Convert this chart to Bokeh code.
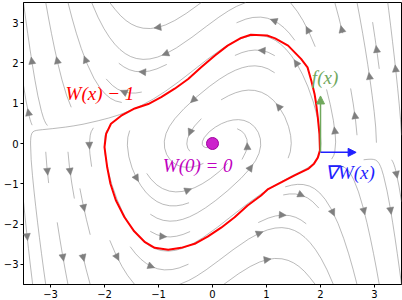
import numpy as np
from bokeh.plotting import figure
from bokeh.models import Arrow, NormalHead, ColumnDataSource, Label, FixedTicker
from bokeh.embed import file_html
from bokeh.resources import INLINE

# ---------------- data ----------------
x_limits = [-3.5, 3.5]
y_limits = [-3.5, 3.5]
tick_values = [-3, -2, -1, 0, 1, 2, 3]
tick_labels = ["\u22123", "\u22122", "\u22121", "0", "1", "2", "3"]

# system shown by the stream plot: time-reversed Van der Pol oscillator
mu = 1.0
stream_density = 0.6
field_points = 101

# level set W(x) = 1 (red curve)
red_x = [1.99, 1.98, 1.95, 1.92, 1.89, 1.83, 1.76, 1.64, 1.40, 1.16, 1.01, 0.71, 0.53,
         0.28, 0.04, -0.21, -0.45, -0.70, -0.95, -1.19, -1.44, -1.69, -1.88, -1.97,
         -2.00, -1.95, -1.89, -1.79, -1.63, -1.45, -1.25, -1.07, -0.82, -0.58, -0.33,
         -0.09, 0.16, 0.41, 0.65, 0.90, 1.03, 1.28, 1.52, 1.77, 1.88, 1.95, 1.99]
red_y = [-0.17, 0.24, 0.65, 0.98, 1.23, 1.56, 1.89, 2.10, 2.43, 2.61, 2.68, 2.70, 2.62,
         2.43, 2.18, 1.89, 1.60, 1.36, 1.15, 0.98, 0.87, 0.69, 0.49, 0.24,
         -0.09, -0.59, -1.00, -1.41, -1.83, -2.18, -2.45, -2.59, -2.64, -2.59, -2.49,
         -2.31, -2.09, -1.83, -1.54, -1.29, -1.13, -0.96, -0.79, -0.63, -0.50, -0.35, -0.17]

origin_point = [0.0, 0.0]
boundary_point = [2.0, -0.22]
f_vector = [0.0, 1.4]
gradW_vector = [0.66, 0.0]

labels = ["W(x) \u2212 1", "W(0) = 0", "f(x)", "\u2207W(x)"]
label_x = [-2.72, -0.92, 1.84, 2.08]
label_y = [1.24, -0.55, 1.64, -0.72]
label_colors = ["#ff0000", "#c000c0", "#70a85c", "#1f1fff"]


# ---------------- stream plot (port of matplotlib's algorithm) ----------------
def stream_lines(xs, ys, U, V, density=1.0, minlength=0.1, maxlength=4.0):
    ngx, ngy = len(xs), len(ys)
    dx, dy = xs[1] - xs[0], ys[1] - ys[0]
    mnx = mny = int(30 * density)
    mask = np.zeros((mny, mnx))
    xg2m = (mnx - 1) / (ngx - 1)
    yg2m = (mny - 1) / (ngy - 1)
    u = U / dx
    v = V / dy
    speed = np.sqrt((u / (ngx - 1)) ** 2 + (v / (ngy - 1)) ** 2)
    st = {"cur": None, "traj": []}

    class OOB(Exception):
        pass

    class Term(Exception):
        pass

    class Occ(Exception):
        pass

    def within(xi, yi):
        return 0 <= xi <= ngx - 1 and 0 <= yi <= ngy - 1

    def g2m(xi, yi):
        return int(round(xi * xg2m)), int(round(yi * yg2m))

    def interp(a, xi, yi):
        Ny, Nx = a.shape
        x = int(xi)
        y = int(yi)
        xn = x if x == Nx - 1 else x + 1
        yn = y if y == Ny - 1 else y + 1
        xt = xi - x
        yt = yi - y
        a0 = a[y, x] * (1 - xt) + a[y, xn] * xt
        a1 = a[yn, x] * (1 - xt) + a[yn, xn] * xt
        return a0 * (1 - yt) + a1 * yt

    def update(xm, ym):
        if st["cur"] != (xm, ym):
            if mask[ym, xm] == 0:
                st["traj"].append((ym, xm))
                mask[ym, xm] = 1
                st["cur"] = (xm, ym)
            else:
                raise Occ

    def fwd(xi, yi):
        if not within(xi, yi):
            raise OOB
        s = interp(speed, xi, yi)
        if s == 0:
            raise Term
        return interp(u, xi, yi) / s, interp(v, xi, yi) / s

    def bwd(xi, yi):
        a, b = fwd(xi, yi)
        return -a, -b

    def euler(traj, f):
        xi, yi = traj[-1]
        cx, cy = f(xi, yi)
        if cx == 0:
            dsx = np.inf
        elif cx < 0:
            dsx = xi / -cx
        else:
            dsx = (ngx - 1 - xi) / cx
        if cy == 0:
            dsy = np.inf
        elif cy < 0:
            dsy = yi / -cy
        else:
            dsy = (ngy - 1 - yi) / cy
        d = min(dsx, dsy)
        traj.append((xi + cx * d, yi + cy * d))
        return d, traj

    def rk12(x0, y0, f):
        maxerror = 0.003
        maxds = min(1.0 / mnx, 1.0 / mny, 0.1)
        ds = maxds
        stotal = 0.0
        xi, yi = x0, y0
        traj = []
        while True:
            try:
                if within(xi, yi):
                    traj.append((xi, yi))
                else:
                    raise OOB
                k1x, k1y = f(xi, yi)
                k2x, k2y = f(xi + ds * k1x, yi + ds * k1y)
            except OOB:
                if traj:
                    d, traj = euler(traj, f)
                    stotal += d
                break
            except Term:
                break
            dx1, dy1 = ds * k1x, ds * k1y
            dx2, dy2 = ds * 0.5 * (k1x + k2x), ds * 0.5 * (k1y + k2y)
            error = np.hypot((dx2 - dx1) / (ngx - 1), (dy2 - dy1) / (ngy - 1))
            if error < maxerror:
                xi += dx2
                yi += dy2
                try:
                    if not within(xi, yi):
                        raise OOB
                    update(*g2m(xi, yi))
                except (Occ, OOB):
                    break
                if stotal + ds > maxlength:
                    break
                stotal += ds
            if error == 0:
                ds = maxds
            else:
                ds = min(maxds, 0.85 * ds * (maxerror / error) ** 0.5)
        return stotal, traj

    def integrate(x0, y0):
        st["traj"] = []
        try:
            update(*g2m(x0, y0))
        except Occ:
            return None
        total = 0.0
        s, t = rk12(x0, y0, bwd)
        total += s
        pts = t[::-1]
        st["cur"] = g2m(x0, y0)
        s, t = rk12(x0, y0, fwd)
        total += s
        pts += t[1:]
        if total > minlength:
            return np.array(pts)
        for (a, b) in st["traj"]:
            mask[a, b] = 0
        return None

    def starts(ny, nx):
        xfirst, yfirst, xlast, ylast = 0, 1, nx - 1, ny - 1
        x, y = 0, 0
        direction = "right"
        for _ in range(nx * ny):
            yield x, y
            if direction == "right":
                x += 1
                if x >= xlast:
                    xlast -= 1
                    direction = "up"
            elif direction == "up":
                y += 1
                if y >= ylast:
                    ylast -= 1
                    direction = "left"
            elif direction == "left":
                x -= 1
                if x <= xfirst:
                    xfirst += 1
                    direction = "down"
            elif direction == "down":
                y -= 1
                if y <= yfirst:
                    yfirst += 1
                    direction = "right"

    lines = []
    for xm, ym in starts(mny, mnx):
        if mask[ym, xm] == 0:
            t = integrate(xm / xg2m, ym / yg2m)
            if t is not None:
                lines.append(t)

    out_x, out_y, arrows = [], [], {"xs": [], "ys": [], "xe": [], "ye": []}
    for t in lines:
        tx = t[:, 0] * dx + xs[0]
        ty = t[:, 1] * dy + ys[0]
        out_x.append(tx.tolist())
        out_y.append(ty.tolist())
        s = np.cumsum(np.hypot(np.diff(tx), np.diff(ty)))
        n = int(np.searchsorted(s, s[-1] / 2.0))
        arrows["xs"].append(tx[n])
        arrows["ys"].append(ty[n])
        arrows["xe"].append(np.mean(tx[n:n + 2]))
        arrows["ye"].append(np.mean(ty[n:n + 2]))
    return out_x, out_y, arrows


gx = np.linspace(x_limits[0], x_limits[1], field_points)
gy = np.linspace(y_limits[0], y_limits[1], field_points)
X, Y = np.meshgrid(gx, gy)
U = -Y
V = X - mu * (1 - X ** 2) * Y
sx, sy, sarrows = stream_lines(gx, gy, U, V, density=stream_density)

# ---------------- figure ----------------
p = figure(width=402, height=300, x_range=tuple(x_limits), y_range=tuple(y_limits),
           output_backend="svg", toolbar_location=None,
           min_border_left=10, min_border_right=1, min_border_top=2, min_border_bottom=10)
p.xgrid.visible = False
p.ygrid.visible = False
p.outline_line_color = "black"
p.outline_line_width = 1
p.outline_line_alpha = 1
p.background_fill_color = "white"
p.border_fill_color = "white"

for ax in (p.xaxis[0], p.yaxis[0]):
    ax.ticker = FixedTicker(ticks=tick_values)
    ax.major_label_overrides = {v: l for v, l in zip(tick_values, tick_labels)}
    ax.major_tick_in = 0
    ax.major_tick_out = 3
    ax.minor_tick_out = 0
    ax.minor_tick_in = 0
    ax.axis_line_color = "black"
    ax.major_tick_line_color = "black"
    ax.major_label_text_font = "DejaVu Sans"
    ax.major_label_text_font_size = "10px"
    ax.major_label_text_color = "black"
    ax.major_label_standoff = 2
    ax.axis_label_standoff = 0

p.multi_line(xs=sx, ys=sy, line_color="#8c8c8c", line_width=0.6)
asrc = ColumnDataSource(data=sarrows)
p.add_layout(Arrow(end=NormalHead(size=7, fill_color="#7f7f7f", line_color="#7f7f7f", line_width=0.5),
                   x_start="xs", y_start="ys", x_end="xe", y_end="ye", source=asrc,
                   line_alpha=0, line_width=0))

p.line(red_x, red_y, line_color="#ff0000", line_width=2)
p.scatter([origin_point[0]], [origin_point[1]], size=12, fill_color="#cc22cc",
          line_color="#a000a0", line_width=1)

bx, by = boundary_point
p.add_layout(Arrow(end=NormalHead(size=8, fill_color=label_colors[2], line_color=label_colors[2], line_width=1),
                   x_start=bx, y_start=by, x_end=bx + f_vector[0], y_end=by + f_vector[1],
                   line_color=label_colors[2], line_width=1.5))
p.add_layout(Arrow(end=NormalHead(size=8, fill_color=label_colors[3], line_color=label_colors[3], line_width=1),
                   x_start=bx, y_start=by, x_end=bx + gradW_vector[0], y_end=by + gradW_vector[1],
                   line_color=label_colors[3], line_width=1.5))

for txt, lx, ly, col in zip(labels, label_x, label_y, label_colors):
    p.add_layout(Label(x=lx, y=ly, text=txt, text_color=col, text_font="Liberation Serif",
                       text_font_style="italic", text_font_size="19px", text_baseline="middle",
                       text_align="left"))

open("out.html", "w").write(file_html(p, INLINE))
